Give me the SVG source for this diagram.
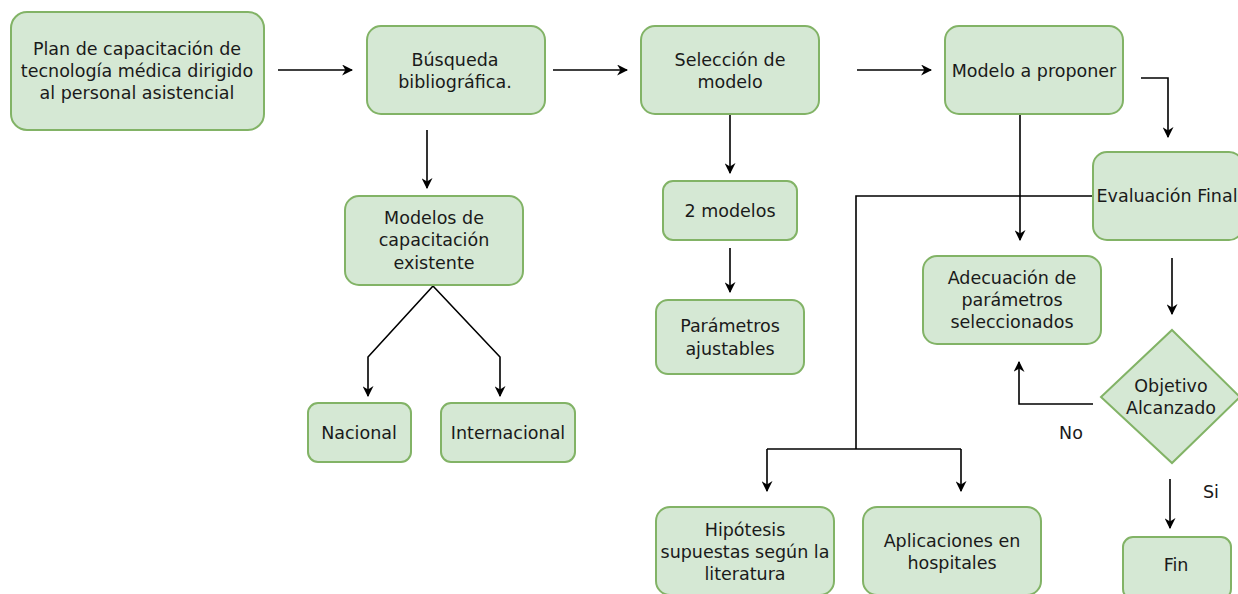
<svg xmlns="http://www.w3.org/2000/svg" width="1238" height="594" viewBox="0 0 1238 594">
<defs>
<style>
.n{fill:#d5e8d4;stroke:#82b366;stroke-width:2}
.t{font-family:"DejaVu Sans",Verdana,sans-serif;font-size:17.5px;fill:#1a1a1a;text-anchor:middle}
.c{fill:none;stroke:#000;stroke-width:1.6}
.a{marker-end:url(#ah)}
</style>
<marker id="ah" viewBox="0 0 10 10" refX="9" refY="5" markerWidth="11" markerHeight="11" markerUnits="userSpaceOnUse" orient="auto">
<path d="M0,0 L10,5 L0,10 L3,5 Z" fill="#000"/>
</marker>
</defs>
<rect width="1238" height="594" fill="#fff"/>
<g id="connectors">
<line class="c a" x1="278" y1="70" x2="352" y2="70"/>
<line class="c a" x1="553" y1="70" x2="627" y2="70"/>
<line class="c a" x1="857" y1="70" x2="931" y2="70"/>
<polyline class="c a" points="1141,78 1168,78 1168,137"/>
<line class="c a" x1="427" y1="130" x2="427" y2="188"/>
<polyline class="c a" points="433,286 368,357 368,396"/>
<polyline class="c a" points="433,286 500,357 500,396"/>
<line class="c a" x1="730" y1="115" x2="730" y2="173"/>
<line class="c a" x1="730" y1="248" x2="730" y2="292"/>
<line class="c a" x1="1020" y1="115" x2="1020" y2="240"/>
<polyline class="c" points="1093,196 856,196 856,449"/>
<polyline class="c" points="767,449 961,449"/>
<polyline class="c a" points="767,449 767,491"/>
<polyline class="c a" points="961,449 961,491"/>
<line class="c a" x1="1172" y1="258" x2="1172" y2="314"/>
<polyline class="c a" points="1093,404 1019,404 1019,362"/>
<line class="c a" x1="1170" y1="479" x2="1170" y2="528"/>
</g>
<g id="plan"><rect class="n" x="11" y="12" width="253" height="118" rx="16"/>
<text class="t" x="137" y="55">Plan de capacitación de</text>
<text class="t" x="137" y="77">tecnología médica dirigido</text>
<text class="t" x="137" y="99">al personal asistencial</text></g>
<g id="busqueda"><rect class="n" x="367" y="26" width="178" height="88" rx="14"/>
<text class="t" x="455" y="66">Búsqueda</text>
<text class="t" x="455" y="88">bibliográfica.</text></g>
<g id="seleccion"><rect class="n" x="641" y="26" width="178" height="88" rx="14"/>
<text class="t" x="730" y="66">Selección de</text>
<text class="t" x="730" y="88">modelo</text></g>
<g id="modelo"><rect class="n" x="945" y="26" width="178" height="88" rx="14"/>
<text class="t" x="1034" y="77">Modelo a proponer</text></g>
<g id="evaluacion"><rect class="n" x="1093" y="152" width="150" height="88" rx="14"/>
<text class="t" x="1167" y="202">Evaluación Final</text></g>
<g id="modelos-existentes"><rect class="n" x="345" y="196" width="178" height="89" rx="14"/>
<text class="t" x="434" y="224">Modelos de</text>
<text class="t" x="434" y="246">capacitación</text>
<text class="t" x="434" y="269">existente</text></g>
<g id="nacional"><rect class="n" x="308" y="403" width="103" height="59" rx="10"/>
<text class="t" x="359" y="439">Nacional</text></g>
<g id="internacional"><rect class="n" x="441" y="403" width="134" height="59" rx="10"/>
<text class="t" x="508" y="439">Internacional</text></g>
<g id="dos-modelos"><rect class="n" x="663" y="181" width="134" height="59" rx="10"/>
<text class="t" x="730" y="217">2 modelos</text></g>
<g id="parametros"><rect class="n" x="656" y="300" width="148" height="74" rx="12"/>
<text class="t" x="730" y="332">Parámetros</text>
<text class="t" x="730" y="355">ajustables</text></g>
<g id="adecuacion"><rect class="n" x="923" y="256" width="178" height="88" rx="14"/>
<text class="t" x="1012" y="284">Adecuación de</text>
<text class="t" x="1012" y="306">parámetros</text>
<text class="t" x="1012" y="328">seleccionados</text></g>
<g id="objetivo"><polygon class="n" points="1172,330 1240,397 1172,463 1101,397"/>
<text class="t" x="1171" y="392">Objetivo</text>
<text class="t" x="1171" y="414">Alcanzado</text></g>
<g id="hipotesis"><rect class="n" x="656" y="507" width="178" height="88" rx="14"/>
<text class="t" x="745" y="536">Hipótesis</text>
<text class="t" x="745" y="558">supuestas según la</text>
<text class="t" x="745" y="580">literatura</text></g>
<g id="aplicaciones"><rect class="n" x="863" y="507" width="178" height="88" rx="14"/>
<text class="t" x="952" y="547">Aplicaciones en</text>
<text class="t" x="952" y="569">hospitales</text></g>
<g id="fin"><rect class="n" x="1123" y="537" width="108" height="62" rx="10"/>
<text class="t" x="1176" y="571">Fin</text></g>
<text class="t" x="1071" y="439">No</text>
<text class="t" x="1211" y="498">Si</text>
</svg>
